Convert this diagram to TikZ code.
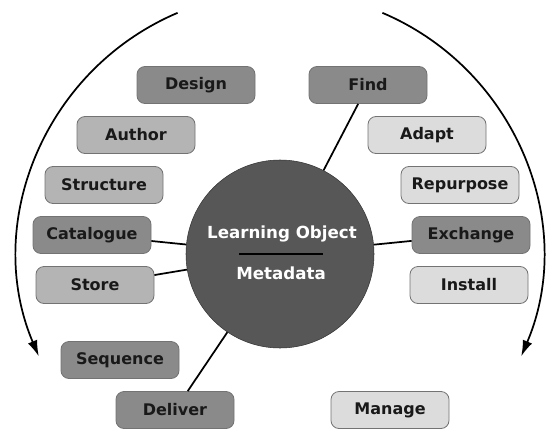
\documentclass[tikz,border=0pt]{standalone}
\usepackage{fontspec}
\setmainfont{DejaVu Sans}
\usetikzlibrary{arrows.meta}
\definecolor{boxdark}{HTML}{8A8A8A}
\definecolor{boxmid}{HTML}{B4B4B4}
\definecolor{boxlight}{HTML}{DCDCDC}
\definecolor{hubgray}{HTML}{575757}
\begin{document}
\begin{tikzpicture}[x=0.75pt,y=0.75pt,>={Latex[length=12pt,width=7.5pt]},
  box/.style={draw=black!55, line width=0.6pt, rounded corners=6pt,
    minimum width=88.5pt, minimum height=27.75pt, font=\bfseries\fontsize{12}{14}\selectfont, text=black!90},
  dark/.style={box, fill=boxdark},
  mid/.style={box, fill=boxmid},
  light/.style={box, fill=boxlight}]
\useasboundingbox (0,0) rectangle (546,430);

\node at (280,176) [circle, draw=black!80, fill=hubgray, minimum size=141pt] (LOM) {};
\node at (282,196) [text=white, font=\bfseries\fontsize{12.5}{15}\selectfont] (LOMtop) {Learning Object};
\node at (281,157) [text=white, font=\bfseries\fontsize{12.5}{15}\selectfont] (LOMbot) {Metadata};
\draw [line width=1.6pt] (239,176) -- (323,176);

% left side
\node at (196,345) [dark] (Design) {Design};
\node at (136,295) [mid] (Author) {Author};
\node at (104,245) [mid] (Structure) {Structure};
\node at (92,195) [dark] (Catalogue) {Catalogue};
\node at (95,145) [mid] (Store) {Store};
\node at (120,70) [dark] (Sequence) {Sequence};
\node at (175,20) [dark] (Deliver) {Deliver};

% right side
\node at (368,345) [dark] (Find) {Find};
\node at (427,295) [light] (Adapt) {Adapt};
\node at (460,245) [light] (Repurpose) {Repurpose};
\node at (471,195) [dark] (Exchange) {Exchange};
\node at (469,145) [light] (Install) {Install};
\node at (390,20) [light] (Manage) {Manage};

\foreach \n in {Find,Catalogue,Store,Exchange,Deliver}
  \draw [line width=1.3pt] (LOM) -- (\n);

% the two cycle arrows
\draw [->, line width=1.3pt] ([shift={(113:262)}]LOM.center) arc[start angle=113, end angle=203, radius=196.5pt];
\draw [->, line width=1.3pt] ([shift={(67:262)}]LOM.center) arc[start angle=67, end angle=-23, radius=196.5pt];
\end{tikzpicture}
\end{document}
